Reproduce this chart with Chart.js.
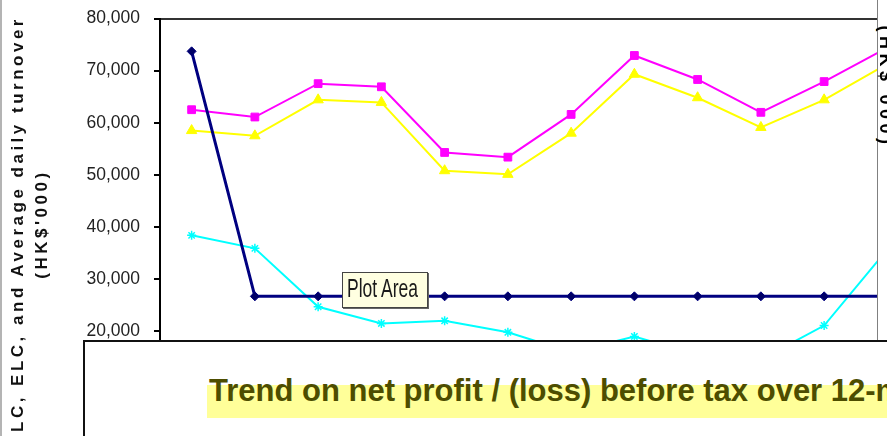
<!doctype html>
<html lang="en">
  <head>
    <meta charset="utf-8">
    <title>LC, ELC and average daily turnover</title>
    <style>
      * {
        margin: 0;
        padding: 0;
      }
      body {
        width: 887px;
        height: 436px;
        overflow: hidden;
        position: relative;
        background: #fff;
        font-family: 'Liberation Sans', Arial, sans-serif;
      }
      .clip {
        position: absolute;
        left: 0;
        top: 0;
        width: 877px;
        height: 436px;
        overflow: hidden;
      }
      /* canvas is taller than the window: label overhang pushes the plot area in,
         so the box is shifted up to put 80,000 at y=18 and 0 at the bottom edge */
      .chartBox {
        position: absolute;
        left: 0;
        top: -6.5px;
        width: 926px;
        height: 466px;
      }
      .edgeLeft {
        position: absolute;
        left: 0;
        top: 0;
        width: 2px;
        height: 436px;
        background: #b4b4b4;
      }
      .edgeRight {
        position: absolute;
        left: 877px;
        top: 0;
        width: 1px;
        height: 436px;
        background: #808080;
      }
      .yTitle {
        position: absolute;
        left: -190px;
        top: 200px;
        width: 440px;
        height: 48px;
        line-height: 24px;
        text-align: center;
        font-weight: bold;
        font-size: 17px;
        letter-spacing: 3.5px;
        color: #111;
        white-space: nowrap;
        transform: rotate(-90deg);
      }
      .rTitle {
        position: absolute;
        left: 811px;
        top: 76px;
        width: 150px;
        height: 22px;
        line-height: 22px;
        text-align: center;
        font-weight: bold;
        font-size: 18px;
        letter-spacing: 4.5px;
        color: #000;
        white-space: nowrap;
        transform: rotate(90deg);
      }
      .tip {
        position: absolute;
        left: 342px;
        top: 272px;
        width: 84px;
        height: 34px;
        background: #ffffe1;
        border: 1px solid #444;
        box-shadow: 1px 1px 0 #666;
        overflow: hidden;
      }
      .tip span {
        position: absolute;
        left: 4px;
        top: 0;
        font-size: 17.5px;
        line-height: 34px;
        color: #1a1a1a;
        white-space: nowrap;
        transform: scaleY(1.45);
        transform-origin: 0 58%;
      }
      .panel {
        position: absolute;
        left: 83px;
        top: 340px;
        width: 900px;
        height: 200px;
        background: #fff;
        border-top: 2px solid #111;
        border-left: 2px solid #111;
      }
      .hl {
        position: absolute;
        left: 207px;
        top: 385px;
        width: 700px;
        height: 33px;
        background: #ffff99;
      }
      .caption {
        position: absolute;
        left: 209px;
        top: 375px;
        font-weight: bold;
        font-size: 31px;
        line-height: 31px;
        color: #4d4d00;
        white-space: nowrap;
      }
    </style>
  </head>
  <body>
    <div class="clip">
      <div class="chartBox">
        <canvas id="myChart"></canvas>
      </div>
    </div>
    <div class="edgeLeft"></div>
    <div class="edgeRight"></div>
    <div class="yTitle">LC, ELC, and Average daily turnover<br>(HK$'000)</div>
    <div class="rTitle">(HK$'000)</div>
    <div class="tip"><span>Plot Area</span></div>
    <div class="panel"></div>
    <div class="hl"></div>
    <div class="caption">Trend on net profit / (loss) before tax over 12-month period</div>

    <script src="https://cdn.jsdelivr.net/npm/chart.js/dist/chart.umd.min.js"></script>
    <script>
    // setup
    const months = ['Month 1', 'Month 2', 'Month 3', 'Month 4', 'Month 5', 'Month 6',
                    'Month 7', 'Month 8', 'Month 9', 'Month 10', 'Month 11', 'Month 12'];
    const requiredLC = [73700, 26700, 26700, 26700, 26700, 26700, 26700, 26700, 26700, 26700, 26700, 26700];
    const liquidCapital = [62500, 61100, 67500, 66900, 54300, 53400, 61600, 72900, 68300, 62000, 67900, 74400];
    const excessLC = [58500, 57500, 64400, 63900, 50800, 50100, 58000, 69300, 64800, 59100, 64400, 71300];
    const dailyTurnover = [38400, 35900, 24700, 21500, 22000, 19800, 16000, 19000, 15500, 14600, 21100, 35700];
    const yTicks = [0, 10000, 20000, 30000, 40000, 50000, 60000, 70000, 80000];

    const data = {
      labels: months,
      datasets: [{
        label: 'Required liquid capital',
        data: requiredLC,
        borderColor: '#000080',
        backgroundColor: '#000066',
        borderWidth: 3,
        pointStyle: 'rectRot',
        pointRadius: 4.5,
        pointBorderWidth: 1
      }, {
        label: 'LC',
        data: liquidCapital,
        borderColor: '#ff00ff',
        backgroundColor: '#ff00ff',
        borderWidth: 2,
        pointStyle: 'rect',
        pointRadius: 5.5,
        pointBorderWidth: 1
      }, {
        label: 'ELC',
        data: excessLC,
        borderColor: '#ffff00',
        backgroundColor: '#ffff00',
        borderWidth: 2,
        pointStyle: 'triangle',
        pointRadius: 6,
        pointBorderWidth: 1
      }, {
        label: 'Average daily turnover',
        data: dailyTurnover,
        borderColor: '#00ffff',
        backgroundColor: '#00ffff',
        borderWidth: 2,
        pointStyle: 'star',
        pointRadius: 4.5,
        pointBorderWidth: 1.5
      }]
    };

    // config
    const config = {
      type: 'line',
      data,
      options: {
        responsive: true,
        maintainAspectRatio: false,
        animation: false,
        layout: {
          padding: 0
        },
        plugins: {
          legend: { display: false },
          tooltip: { enabled: false }
        },
        elements: {
          line: { tension: 0 }
        },
        scales: {
          x: {
            display: false,
            offset: true
          },
          y: {
            min: 0,
            max: 80000,
            afterFit: (scale) => { scale.width = 160; },
            afterBuildTicks: (scale) => {
              scale.ticks = yTicks.map(v => ({ value: v }));
            },
            border: { color: '#000', width: 2 },
            grid: {
              drawOnChartArea: true,
              color: (ctx) => (ctx.tick && ctx.tick.value === 80000) ? '#333' : 'rgba(0,0,0,0)',
              lineWidth: 2,
              tickColor: '#000',
              tickWidth: 2,
              tickLength: 6
            },
            ticks: {
              padding: 14,
              color: '#222',
              font: { family: "'Liberation Sans', Arial, sans-serif", size: 17.5, lineHeight: 1.2 },
              callback: (v) => v.toLocaleString('en-US')
            }
          }
        }
      }
    };

    // render init block
    const myChart = new Chart(
      document.getElementById('myChart'),
      config
    );
    </script>
  </body>
</html>
